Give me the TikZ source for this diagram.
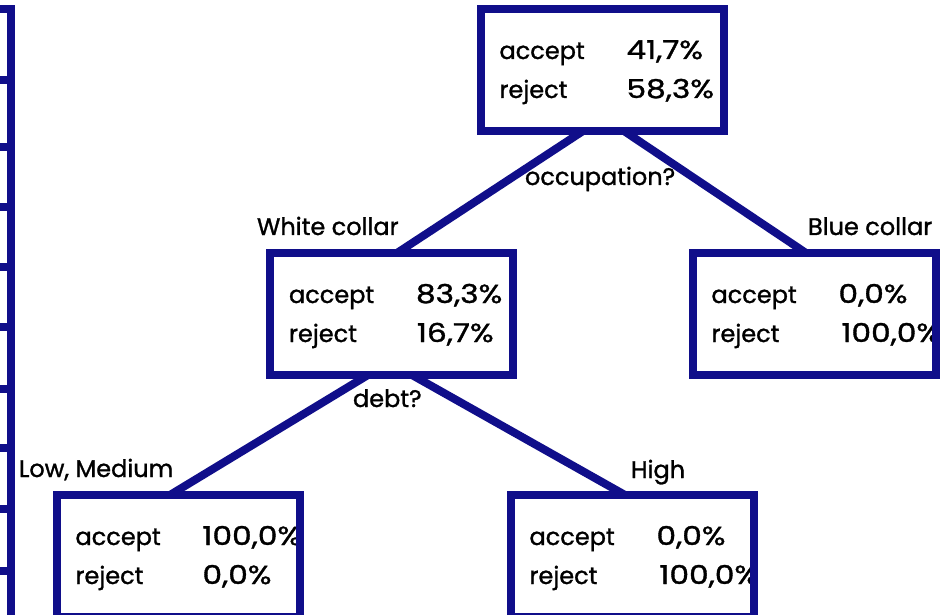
\documentclass[tikz,border=0pt]{standalone}
\usepackage{fontspec}
\setmainfont{Poppins}[FakeBold=1.2]
\usetikzlibrary{calc}
\definecolor{navy}{RGB}{16,14,138}
\pgfdeclarelayer{bg}
\pgfsetlayers{bg,main}
\tikzset{
  box/.style={draw=navy, line width=8pt, minimum width=243pt, minimum height=122pt, inner sep=0pt, outer sep=0pt},
  edge/.style={draw=navy, line width=8pt},
  txt/.style={font=\fontsize{24}{26}\selectfont, inner sep=0pt, outer sep=0pt, anchor=base west},
  val/.style={txt, font=\fontsize{26}{28}\selectfont},
}
\newcommand\wideval[1]{\scalebox{1.2}[1]{#1}}
\newcommand\boxrows[5]{%
  \node[txt] (#1a1) at ($(#1.north west)+(19,50)$) {accept};
  \node[val] (#1a2) at ($(#1.north west)+(146,50)$) {\wideval{#2}};
  \node[txt] (#1r1) at ($(#1.north west)+(19,89)$) {reject};
  \node[val] (#1r2) at ($(#1.north west)+(#5,89)$) {\wideval{#3}};
}
\begin{document}
\begin{tikzpicture}[x=1pt,y=-1pt]
\useasboundingbox (0,0) rectangle (946,615);
% boxes
\node[box] (root) at (602,70) {};
\node[box] (white) at (391.5,314) {};
\node[box] (blue) at (814,314) {};
\node[box] (low) at (178,556) {};
\node[box] (high) at (632,556) {};
\begin{pgfonlayer}{bg}
  \fill[white] (0,0) rectangle (946,615);
  \boxrows{root}{41,7\%}{58,3\%}{}{146}
  \boxrows{white}{83,3\%}{16,7\%}{}{147}
  \boxrows{blue}{0,0\%}{100,0\%}{}{149}
  \boxrows{low}{100,0\%}{0,0\%}{}{146}
  \boxrows{high}{0,0\%}{100,0\%}{}{149}
  % connectors
  \draw[edge] ($(root.south)+(-19,0)$) -- ($(white.north)+(5.5,0)$);
  \draw[edge] ($(root.south)+(22,0)$) -- ($(blue.north)+(-8,0)$);
  \draw[edge] ($(white.south)+(-23.5,0)$) -- ($(low.north)+(-8,0)$);
  \draw[edge] ($(white.south)+(20.5,0)$) -- ($(high.north)+(-7,0)$);
\end{pgfonlayer}
% labels
\node[txt] (occ) at (525,185) {occupation?};
\node[txt] (wc) at (257,235) {White collar};
\node[txt] (bc) at (808,235) {Blue collar};
\node[txt] (debt) at (353,407) {debt?};
\node[txt] (lm) at (19,477) {Low, Medium};
\node[txt] (hi) at (631,478) {High};
% left edge fragment
\draw[navy, line width=8pt, line join=miter]
  (0,9) -- (11,9) -- (11,620);
\foreach \yy in {80,147,207,267,327,389,448,509,571}
  \draw[navy, line width=8pt] (0,\yy) -- (11,\yy);
\end{tikzpicture}
\end{document}
